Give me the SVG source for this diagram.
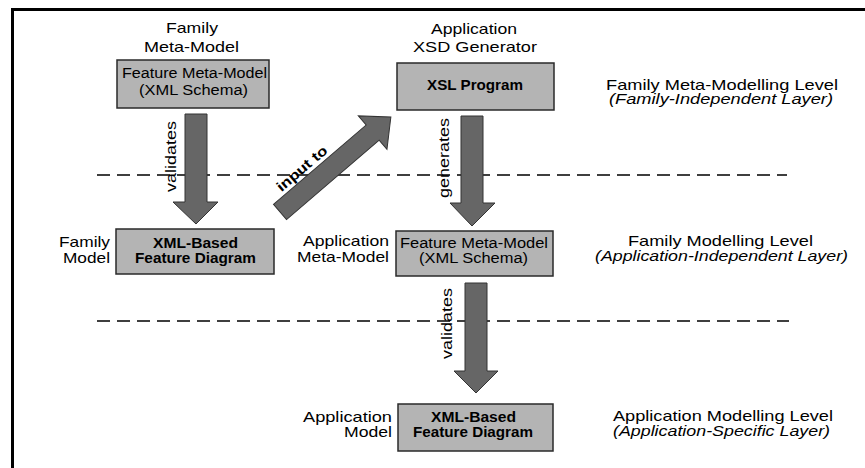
<svg xmlns="http://www.w3.org/2000/svg" width="865" height="468" viewBox="0 0 865 468">
  <style>
    text { font-family: "Liberation Sans", Arial, sans-serif; fill: #000; }
    .lbl { font-size: 15px; }
    .box { fill: #b4b4b4; stroke: #2a2a2a; stroke-width: 1.5; }
    .bt { font-size: 14px; font-weight: bold; text-anchor: middle; }
    .bn { font-size: 14px; text-anchor: middle; }
    .c { text-anchor: middle; }
    .r { text-anchor: end; }
    .it { font-style: italic; }
    .arrow { fill: #666; stroke: #333; stroke-width: 1; }
    .rot { font-size: 14px; }
    .level { stroke: #000; stroke-width: 1.6; stroke-dasharray: 13 7; fill: none; }
  </style>

  <!-- frame -->
  <g id="frame">
    <line x1="12.5" y1="8" x2="12.5" y2="468" stroke="#000" stroke-width="3"/>
    <line x1="11" y1="9.5" x2="865" y2="9.5" stroke="#000" stroke-width="3"/>
  </g>

  <!-- level separators -->
  <g id="levels">
    <line class="level" x1="97" y1="175" x2="787" y2="175"/>
    <line class="level" x1="97" y1="321" x2="789" y2="321"/>
  </g>

  <!-- level captions -->
  <g id="level-captions">
    <text class="lbl c" x="722" y="89.5" textLength="232" lengthAdjust="spacingAndGlyphs">Family Meta-Modelling Level</text>
    <text class="lbl c it" x="721" y="103.5" textLength="224" lengthAdjust="spacingAndGlyphs">(Family-Independent Layer)</text>
    <text class="lbl c" x="720.5" y="246" textLength="185" lengthAdjust="spacingAndGlyphs">Family Modelling Level</text>
    <text class="lbl c it" x="721.5" y="260.5" textLength="253" lengthAdjust="spacingAndGlyphs">(Application-Independent Layer)</text>
    <text class="lbl c" x="723" y="421" textLength="220" lengthAdjust="spacingAndGlyphs">Application Modelling Level</text>
    <text class="lbl c it" x="721.5" y="435.5" textLength="217" lengthAdjust="spacingAndGlyphs">(Application-Specific Layer)</text>
  </g>

  <!-- nodes -->
  <g id="family-meta-model">
    <text class="lbl c" x="192" y="33" textLength="52" lengthAdjust="spacingAndGlyphs">Family</text>
    <text class="lbl c" x="191.5" y="52" textLength="95" lengthAdjust="spacingAndGlyphs">Meta-Model</text>
    <rect class="box" x="117" y="60" width="152" height="48"/>
    <text class="bn" x="194.5" y="78" textLength="145" lengthAdjust="spacingAndGlyphs">Feature Meta-Model</text>
    <text class="bn" x="193.5" y="95" textLength="109" lengthAdjust="spacingAndGlyphs">(XML Schema)</text>
  </g>

  <g id="xsd-generator">
    <text class="lbl c" x="474" y="34" textLength="86" lengthAdjust="spacingAndGlyphs">Application</text>
    <text class="lbl c" x="475" y="52" textLength="124" lengthAdjust="spacingAndGlyphs">XSD Generator</text>
    <rect class="box" x="397" y="63" width="157" height="47"/>
    <text class="bt" x="475" y="90" style="font-size:15px" textLength="96" lengthAdjust="spacingAndGlyphs">XSL Program</text>
  </g>

  <g id="family-model">
    <text class="lbl r" x="110" y="247" textLength="51" lengthAdjust="spacingAndGlyphs">Family</text>
    <text class="lbl r" x="110" y="262.5" textLength="47" lengthAdjust="spacingAndGlyphs">Model</text>
    <rect class="box" x="116" y="229" width="158" height="45"/>
    <text class="bt" x="195.5" y="248" textLength="85" lengthAdjust="spacingAndGlyphs">XML-Based</text>
    <text class="bt" x="195.5" y="263" textLength="121" lengthAdjust="spacingAndGlyphs">Feature Diagram</text>
  </g>

  <g id="application-meta-model">
    <text class="lbl r" x="389" y="246" textLength="86" lengthAdjust="spacingAndGlyphs">Application</text>
    <text class="lbl r" x="389" y="262" textLength="92" lengthAdjust="spacingAndGlyphs">Meta-Model</text>
    <rect class="box" x="396" y="231" width="157" height="45"/>
    <text class="bn" x="474" y="247.5" textLength="148" lengthAdjust="spacingAndGlyphs">Feature Meta-Model</text>
    <text class="bn" x="473.5" y="262.5" textLength="109" lengthAdjust="spacingAndGlyphs">(XML Schema)</text>
  </g>

  <g id="application-model">
    <text class="lbl r" x="392" y="422" textLength="89" lengthAdjust="spacingAndGlyphs">Application</text>
    <text class="lbl r" x="392" y="437" textLength="48" lengthAdjust="spacingAndGlyphs">Model</text>
    <rect class="box" x="398" y="404" width="155" height="47"/>
    <text class="bt" x="473.5" y="422" textLength="85" lengthAdjust="spacingAndGlyphs">XML-Based</text>
    <text class="bt" x="473" y="437" textLength="120" lengthAdjust="spacingAndGlyphs">Feature Diagram</text>
  </g>

  <!-- connectors -->
  <g id="connectors">
    <polygon class="arrow" points="185,114 207,114 207,202 218,202 196,224 173,202 185,202"/>
    <text class="rot" transform="translate(175.5,192) rotate(-90)" textLength="71" lengthAdjust="spacingAndGlyphs">validates</text>

    <polygon class="arrow" points="461,116 483,116 483,203 495,203 472,226 450,203 461,203"/>
    <text class="rot" transform="translate(448.5,198) rotate(-90)" textLength="80" lengthAdjust="spacingAndGlyphs">generates</text>

    <polygon class="arrow" points="465,283 487,283 487,371 498,371 476,393 454,371 465,371"/>
    <text class="rot" transform="translate(452,359) rotate(-90)" textLength="71" lengthAdjust="spacingAndGlyphs">validates</text>

    <g transform="translate(280,212) rotate(-40.6)">
      <polygon class="arrow" points="0,-10 122,-10 122,-22 146,0 122,22 122,10 0,10"/>
      <text x="14" y="-14" style="font-size:14px;font-weight:bold" textLength="62" lengthAdjust="spacingAndGlyphs">input to</text>
    </g>
  </g>
</svg>
